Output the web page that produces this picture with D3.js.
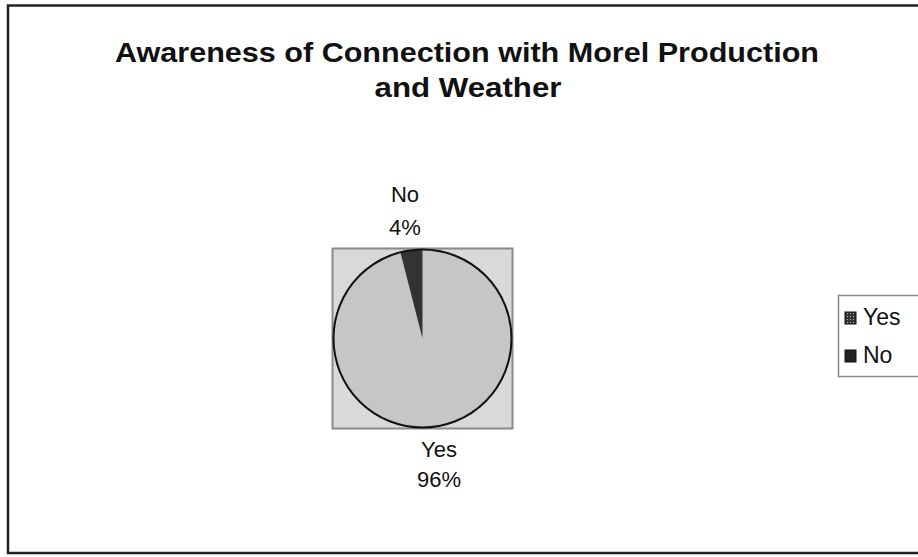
<!DOCTYPE html>
<html><head><meta charset="utf-8">
<script src="https://cdn.jsdelivr.net/npm/d3@7"></script>
<style>body{margin:0;background:#fff;}svg{display:block;font-family:"Liberation Sans",Arial,sans-serif;}</style>
</head><body>
<svg id="c" width="918" height="557"></svg>
<script>
const categories = ["Yes", "No"];
const values = [96, 4];
const percentLabels = ["96%", "4%"];
const colors = ["#c6c6c6", "#333333"];
const titleLines = ["Awareness of Connection with Morel Production", "and Weather"];

const svg = d3.select("#c");
const defs = svg.append("defs");
const pat = defs.append("pattern").attr("id", "yesPat").attr("patternUnits", "userSpaceOnUse")
  .attr("width", 3).attr("height", 3);
pat.append("rect").attr("width", 3).attr("height", 3).attr("fill", "#333");
pat.append("rect").attr("x", 1).attr("y", 1).attr("width", 1).attr("height", 1).attr("fill", "#bbb");

// outer frame
svg.append("rect").attr("x", 8).attr("y", 5.5).attr("width", 930).attr("height", 547.5)
  .attr("fill", "#fff").attr("stroke", "#222").attr("stroke-width", 2.5);

// title
svg.append("text").attr("x", 467).attr("y", 62).attr("text-anchor", "middle")
  .attr("font-size", 27).attr("font-weight", "bold").attr("fill", "#111")
  .attr("textLength", 704).attr("lengthAdjust", "spacingAndGlyphs").text(titleLines[0]);
svg.append("text").attr("x", 468).attr("y", 97).attr("text-anchor", "middle")
  .attr("font-size", 27).attr("font-weight", "bold").attr("fill", "#111")
  .attr("textLength", 187).attr("lengthAdjust", "spacingAndGlyphs").text(titleLines[1]);

// plot area
const cx = 422.5, cy = 338.5, r = 89;
svg.append("rect").attr("x", 332.5).attr("y", 248.5).attr("width", 180).attr("height", 180)
  .attr("fill", "#d9d9d9").attr("stroke", "#8a8a8a").attr("stroke-width", 2);

const data = categories.map((c, i) => ({cat: c, value: values[i], label: percentLabels[i], color: colors[i]}));
const pie = d3.pie().value(d => d.value).sort(null);
const arc = d3.arc().innerRadius(0).outerRadius(r);
const arcs = pie(data);
const g = svg.append("g").attr("transform", `translate(${cx},${cy})`);
g.selectAll("path").data(arcs).join("path")
  .attr("d", arc).attr("fill", d => d.data.color).attr("stroke", "none");
g.append("circle").attr("r", r).attr("fill", "none").attr("stroke", "#111").attr("stroke-width", 2);

// data labels
const labelPos = {Yes: [439, 457, 487], No: [405, 202, 235]};
arcs.forEach(a => {
  const p = labelPos[a.data.cat];
  svg.append("text").attr("x", p[0]).attr("y", p[1]).attr("text-anchor", "middle")
    .attr("font-size", 22).attr("fill", "#111").text(a.data.cat);
  svg.append("text").attr("x", p[0]).attr("y", p[2]).attr("text-anchor", "middle")
    .attr("font-size", 22).attr("fill", "#111").text(a.data.label);
});

// legend
svg.append("rect").attr("x", 838.5).attr("y", 295.5).attr("width", 100).attr("height", 81)
  .attr("fill", "#fff").attr("stroke", "#888").attr("stroke-width", 1.5);
const legY = [325, 363];
data.forEach((d, i) => {
  svg.append("rect").attr("x", 845).attr("y", legY[i] - 13).attr("width", 11).attr("height", 12)
    .attr("fill", i === 0 ? "url(#yesPat)" : "#222").attr("stroke", "#111");
  svg.append("text").attr("x", 863).attr("y", legY[i]).attr("font-size", 23)
    .attr("fill", "#111").text(d.cat);
});
</script>
</body></html>
